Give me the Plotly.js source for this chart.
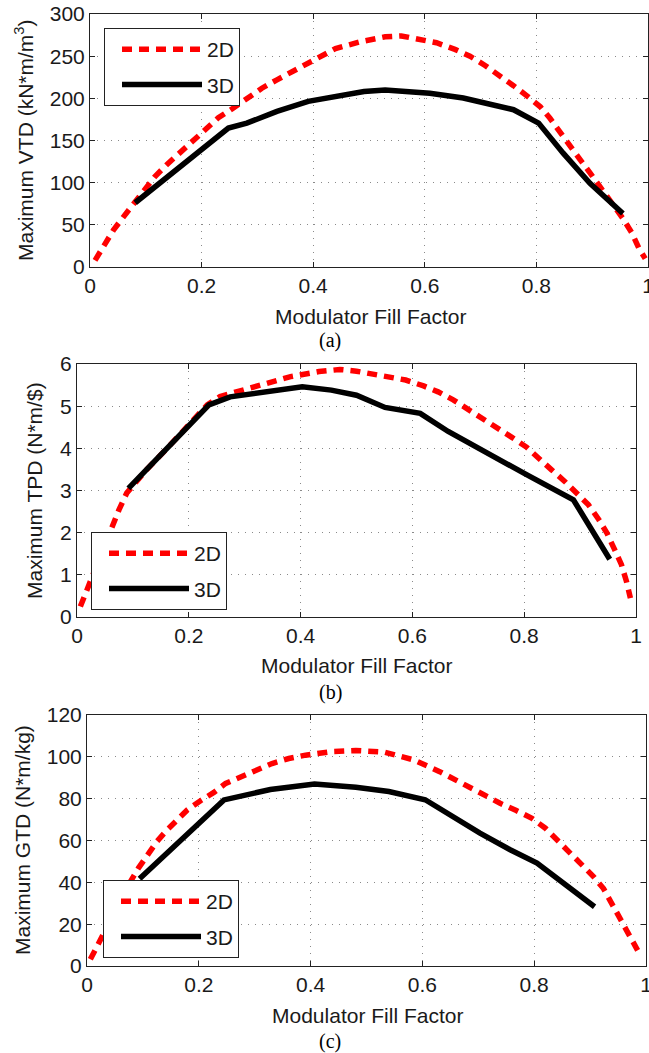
<!DOCTYPE html>
<html>
<head>
<meta charset="utf-8">
<script src="https://cdn.plot.ly/plotly-3.0.1.min.js"></script>
<style>
html,body{margin:0;padding:0;background:#fff;}
#chart{width:649px;height:1053px;}
</style>
</head>
<body>
<div id="chart"></div>
<script>
// ---- Panel (a): Maximum VTD ----
const vtd2D_x = [0.009,0.027,0.042,0.060,0.078,0.096,0.116,0.137,0.161,0.182,0.206,0.230,0.257,0.281,0.308,0.335,0.364,0.388,0.44,0.484,0.529,0.558,0.595,0.621,0.654,0.681,0.708,0.735,0.759,0.783,0.807,0.824,0.845,0.863,0.881,0.899,0.917,0.937,0.955,0.971,0.984,0.995];
const vtd2D_y = [7.9,27.8,43.7,59.5,75.4,91.3,107,121,135,149,163,177,188.5,200,212,222,232,240,259,267,273,274,269,265.9,258,250,239,227,215,203,190,176.6,156.7,140.9,125,109,93,75.4,57.5,40.5,21.8,10];
const vtd3D_x = [0.081,0.248,0.281,0.335,0.391,0.447,0.491,0.529,0.581,0.609,0.669,0.759,0.804,0.848,0.896,0.955];
const vtd3D_y = [76.2,164.7,170.6,184.5,196.4,202,208,210,208,206,200.4,186.5,170.6,135,99.2,63.5];

// ---- Panel (b): Maximum TPD ----
const tpd2D_x = [0.006,0.018,0.04,0.060,0.075,0.089,0.122,0.159,0.196,0.233,0.256,0.286,0.319,0.352,0.382,0.433,0.47,0.5,0.544,0.588,0.620,0.646,0.673,0.700,0.727,0.754,0.778,0.804,0.825,0.849,0.873,0.894,0.915,0.933,0.948,0.962,0.974,0.983,0.990];
const tpd2D_y = [0.25,0.65,1.42,2.1,2.54,2.94,3.46,3.97,4.48,5.03,5.23,5.34,5.48,5.58,5.7,5.82,5.87,5.83,5.74,5.62,5.48,5.34,5.15,4.93,4.71,4.48,4.26,4.03,3.76,3.49,3.21,2.94,2.66,2.32,1.99,1.59,1.24,0.84,0.45];
const tpd3D_x = [0.092,0.236,0.274,0.334,0.403,0.455,0.5,0.551,0.614,0.664,0.733,0.805,0.888,0.953];
const tpd3D_y = [3.05,5.03,5.22,5.34,5.46,5.38,5.26,4.97,4.83,4.40,3.88,3.37,2.78,1.37];

// ---- Panel (c): Maximum GTD ----
const gtd2D_x = [0.006,0.021,0.045,0.065,0.078,0.092,0.110,0.125,0.143,0.161,0.179,0.203,0.227,0.248,0.274,0.301,0.331,0.361,0.391,0.437,0.481,0.533,0.585,0.631,0.659,0.686,0.712,0.739,0.768,0.796,0.820,0.842,0.863,0.885,0.906,0.924,0.939,0.954,0.969,0.985];
const gtd2D_y = [3.2,11.1,24,34,40.5,46.8,54,59.5,65,70,74.5,79,83,87.3,90.5,93.7,96.8,99.2,100.8,102.5,103,102.2,98.5,92.9,88.9,84.9,81.3,77.8,74.3,70.6,65.9,60,54.3,48.7,42.8,37,29.8,22.2,14.8,7.5];
const gtd3D_x = [0.094,0.245,0.328,0.407,0.481,0.54,0.605,0.656,0.703,0.757,0.805,0.908];
const gtd3D_y = [41.7,79.4,84.4,87,85.5,83.4,79.5,71,63.5,55.6,49.2,28.3];

const seriesNames = ["2D","3D"];
const xTitle = "Modulator Fill Factor";
const yTitles = ["Maximum VTD (kN*m/m<sup>3</sup>)","Maximum TPD (N*m/$)","Maximum GTD (N*m/kg)"];
const captions = ["(a)","(b)","(c)"];
const xTickVals = [0,0.2,0.4,0.6,0.8,1];
const xTickText = ["0","0.2","0.4","0.6","0.8","1"];

const W = 649, H = 1053;
const px = v => v / W;
const py = v => 1 - v / H;

const style2D = {color:"#ff0000", width:5.5, dash:"10px,7px"};
const style3D = {color:"#000000", width:5.5};

const data = [
  {x:vtd2D_x, y:vtd2D_y, name:seriesNames[0], mode:"lines", line:style2D, xaxis:"x", yaxis:"y", legend:"legend", legendgroup:"a2"},
  {x:vtd3D_x, y:vtd3D_y, name:seriesNames[1], mode:"lines", line:style3D, xaxis:"x", yaxis:"y", legend:"legend", legendgroup:"a3"},
  {x:tpd2D_x, y:tpd2D_y, name:seriesNames[0], mode:"lines", line:style2D, xaxis:"x2", yaxis:"y2", legend:"legend2", legendgroup:"b2"},
  {x:tpd3D_x, y:tpd3D_y, name:seriesNames[1], mode:"lines", line:style3D, xaxis:"x2", yaxis:"y2", legend:"legend2", legendgroup:"b3"},
  {x:gtd2D_x, y:gtd2D_y, name:seriesNames[0], mode:"lines", line:style2D, xaxis:"x3", yaxis:"y3", legend:"legend3", legendgroup:"c2"},
  {x:gtd3D_x, y:gtd3D_y, name:seriesNames[1], mode:"lines", line:style3D, xaxis:"x3", yaxis:"y3", legend:"legend3", legendgroup:"c3"}
];

const tickFont = {family:"Liberation Sans, Arial, sans-serif", size:21, color:"#1a1a1a"};
const gridCommon = {showgrid:true, gridcolor:"#8a8a8a", griddash:"1px,6px", gridwidth:1,
  showline:true, linecolor:"#222", linewidth:1, mirror:"ticks", ticks:"inside", ticklen:5, tickcolor:"#222",
  zeroline:false, tickfont:tickFont, fixedrange:true, ticklabeloverflow:"allow"};

function xax(domain, anchor){
  return Object.assign({}, gridCommon, {domain:domain, anchor:anchor, range:[0,1], tickvals:xTickVals, ticktext:xTickText});
}
function yax(domain, anchor, range, dtick){
  return Object.assign({}, gridCommon, {domain:domain, anchor:anchor, range:range, dtick:dtick, tick0:0});
}

// plot area pixel boxes [left,right,top,bottom]
const boxes = [[90,648,14,267],[77,636,364,617],[87,646,715,966]];

function legendAt(x, y){
  return {x:px(x), y:py(y), xanchor:"left", yanchor:"top", bgcolor:"#fff", bordercolor:"#222", borderwidth:1,
    font:{family:"Liberation Sans, Arial, sans-serif", size:21, color:"#1a1a1a"}, itemwidth:80, indentation:12,
    traceorder:"grouped", tracegroupgap:5};
}

const annotations = [];
const yTitlePos = [[24,140],[34,491],[22,840]];
const xTitlePos = [[370,316],[356,665],[367,1015]];
const capPos = [[330,341],[330,692],[330,1041]];
for (let i=0;i<3;i++){
  annotations.push({text:yTitles[i], xref:"paper", yref:"paper", x:px(yTitlePos[i][0]), y:py(yTitlePos[i][1]),
    xanchor:"center", yanchor:"middle", textangle:-90, showarrow:false,
    font:{family:"Liberation Sans, Arial, sans-serif", size:21, color:"#1a1a1a"}});
  annotations.push({text:xTitle, xref:"paper", yref:"paper", x:px(xTitlePos[i][0]), y:py(xTitlePos[i][1]),
    xanchor:"center", yanchor:"middle", showarrow:false,
    font:{family:"Liberation Sans, Arial, sans-serif", size:21, color:"#1a1a1a"}});
  annotations.push({text:captions[i], xref:"paper", yref:"paper", x:px(capPos[i][0]), y:py(capPos[i][1]),
    xanchor:"center", yanchor:"middle", showarrow:false,
    font:{family:"Liberation Serif, Times New Roman, serif", size:20, color:"#000"}});
}

const layout = {
  width:W, height:H, margin:{l:0,r:0,t:0,b:0}, paper_bgcolor:"#fff", plot_bgcolor:"#fff",
  showlegend:true,
  xaxis: xax([px(boxes[0][0]), px(boxes[0][1])], "y"),
  yaxis: yax([py(boxes[0][3]), py(boxes[0][2])], "x", [0,300], 50),
  xaxis2: xax([px(boxes[1][0]), px(boxes[1][1])], "y2"),
  yaxis2: yax([py(boxes[1][3]), py(boxes[1][2])], "x2", [0,6], 1),
  xaxis3: xax([px(boxes[2][0]), px(boxes[2][1])], "y3"),
  yaxis3: yax([py(boxes[2][3]), py(boxes[2][2])], "x3", [0,120], 20),
  legend: legendAt(104,28),
  legend2: legendAt(91,532),
  legend3: legendAt(103,880),
  annotations: annotations
};

Plotly.newPlot("chart", data, layout, {staticPlot:true, displayModeBar:false});
</script>
</body>
</html>
